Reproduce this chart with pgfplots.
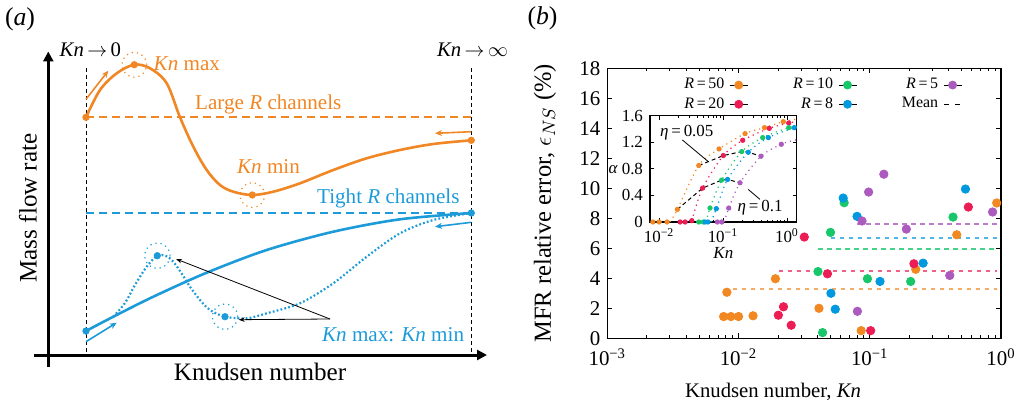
\documentclass[border=0pt]{standalone}
\usepackage{fontspec}
\setmainfont{Liberation Serif}
\newfontfamily\tms{Liberation Serif}
\usepackage{pgfplots}
\pgfplotsset{compat=1.18}
\usetikzlibrary{arrows.meta}

\definecolor{aorange}{RGB}{241,134,36}
\definecolor{ablue}{RGB}{29,155,216}
\definecolor{cfifty}{RGB}{241,136,34}
\definecolor{ctwenty}{RGB}{236,28,84}
\definecolor{cten}{RGB}{24,199,106}
\definecolor{ceight}{RGB}{0,152,222}
\definecolor{cfive}{RGB}{171,90,190}

\newcommand{\fs}[1]{\tms\fontsize{#1}{#1}\selectfont}

\begin{document}
\begin{tikzpicture}
\useasboundingbox (0,0) rectangle (512bp,202bp);

% ---------------- panel (a): schematic, axis in pixel units
\begin{axis}[at={(0,0)},anchor=south west,scale only axis,
  width=256bp,height=202bp,
  xmin=0,xmax=512,ymin=0,ymax=404,y dir=reverse,
  hide axis,clip=false]
  % axes with arrows
  \draw[black,line width=1.5bp,-{Triangle[length=5bp,width=5bp]}]
    (axis cs:48.3,367) -- (axis cs:48.3,51.5);
  \draw[black,line width=1.5bp,-{Triangle[length=5bp,width=5bp]}]
    (axis cs:33.5,355) -- (axis cs:487,355);
  \draw[black,line width=0.5bp,dash pattern=on 2bp off 1.5bp]
    (axis cs:86,68) -- (axis cs:86,355);
  \draw[black,line width=0.5bp,dash pattern=on 2bp off 1.5bp]
    (axis cs:471.3,68) -- (axis cs:471.3,355);

  % reference levels
  \addplot[color=aorange,line width=0.8bp,dash pattern=on 4bp off 2.5bp]
    coordinates {(86,117.3) (471.3,117.3)};
  \addplot[color=ablue,line width=0.7bp,dash pattern=on 4bp off 2.5bp]
    coordinates {(86,213) (471.3,213)};

  % large R channels
  \addplot[aorange,line width=1.3bp,smooth,tension=0.55] coordinates {
    (86,117.3) (100,90) (116.7,73.3) (134.3,64.7) (150,68.3)
    (166.7,83.3) (180,117.3) (193.3,146.7) (206.7,170) (220,185)
    (233.3,191.7) (252.3,195) (273.3,191.7) (300,183.3) (333.3,170)
    (366.7,158.3) (400,150) (433.3,144) (471.3,140.3)};
  \addplot[aorange,only marks,mark=*,mark size=1.6bp] coordinates {
    (86,117.3) (134.3,64.7) (252.3,195) (471.3,140.3)};

  % tight R channels
  \addplot[ablue,line width=1.3bp,smooth] coordinates {
    (86,331) (113.3,316.7) (153.3,296.7) (206.7,272.7) (266.7,250)
    (333.3,231.7) (400,219.3) (471.3,213)};
  \addplot[ablue,line width=1.1bp,dash pattern=on 0.9bp off 1.1bp,smooth,tension=0.5]
    coordinates {
    (113.3,316.7) (125,303) (135,285) (146.7,266.7) (157.3,255.7)
    (166,256) (173.3,261.7) (182,274) (190,286.7) (200,300) (210,310)
    (225,316.7) (246.7,318.3) (266.7,313.3) (300,303.3) (333.3,283.3)
    (366.7,256.7) (400,233.3) (433.3,220) (471.3,213)};
  \addplot[ablue,only marks,mark=*,mark size=1.6bp] coordinates {
    (86,331) (157.3,255.7) (225,316.7) (471.3,213)};

  % dotted circles
  \draw[aorange,line width=0.6bp,dotted] (axis cs:134.3,64.7) circle[radius=6.2bp];
  \draw[aorange,line width=0.6bp,dotted] (axis cs:252.3,195) circle[radius=6.2bp];
  \draw[ablue,line width=0.6bp,dotted] (axis cs:157.3,255.7) circle[radius=6.4bp];
  \draw[ablue,line width=0.6bp,dotted] (axis cs:225,316.7) circle[radius=6.4bp];

  % direction arrows
  \draw[aorange,line width=0.8bp,-{Stealth[length=3.5bp,width=3bp]}]
    (axis cs:86,99.3) -- (axis cs:108.3,70.7);
  \draw[aorange,line width=0.8bp,-{Stealth[length=3.5bp,width=3bp]}]
    (axis cs:471.3,131.7) -- (axis cs:435,133.3);
  \draw[ablue,line width=0.8bp,-{Stealth[length=3.5bp,width=3bp]}]
    (axis cs:86,341.7) -- (axis cs:116.7,322.7);
  \draw[ablue,line width=0.8bp,-{Stealth[length=3.5bp,width=3bp]}]
    (axis cs:471.3,222.3) -- (axis cs:435,226.7);
  \draw[black,line width=0.4bp,-{Stealth[length=3bp,width=2.2bp]}]
    (axis cs:330,319) -- (axis cs:176,259);
  \draw[black,line width=0.4bp,-{Stealth[length=3bp,width=2.2bp]}]
    (axis cs:330,319) -- (axis cs:238.7,319.7);

  % text
  \node[font=\fs{12.9}] at (axis cs:20,19) {(\textit{a})};
  \node[font=\fs{12.9}] at (axis cs:542.5,18.5) {(\textit{b})};
  \node[font=\fs{10.4},anchor=base west,inner sep=0pt] at (axis cs:59.3,56.7)
    {\textit{Kn}\,$\rightarrow$\,0};
  \node[font=\fs{10.4},anchor=base west,inner sep=0pt] at (axis cs:436.7,56.7)
    {\textit{Kn}\,$\rightarrow$\,$\infty$};
  \node[font=\fs{10.6},anchor=base west,inner sep=0pt,text=aorange]
    at (axis cs:153.3,71) {\textit{Kn} max};
  \node[font=\fs{10.6},anchor=base,inner sep=0pt,text=aorange]
    at (axis cs:268.3,109.3) {Large \textit{R} channels};
  \node[font=\fs{10.6},anchor=base west,inner sep=0pt,text=aorange]
    at (axis cs:236.7,174) {\textit{Kn} min};
  \node[font=\fs{10.6},anchor=base west,inner sep=0pt,text=ablue]
    at (axis cs:316.7,203.3) {Tight \textit{R} channels};
  \node[font=\fs{10.6},anchor=base west,inner sep=0pt,text=ablue]
    at (axis cs:321.7,341.7) {\textit{Kn} max: \textit{Kn} min};
  \node[font=\fs{12.6},anchor=base,inner sep=0pt,rotate=90]
    at (axis cs:36.5,208) {Mass flow rate};
  \node[font=\fs{12.6},anchor=base,inner sep=0pt]
    at (axis cs:260,380) {Knudsen number};
\end{axis}

% ---------------- panel (b): main axis
\begin{axis}[at={(303.65bp,32.85bp)},anchor=south west,scale only axis,
  width=196.85bp,height=135bp,
  xmode=log,xmin=1e-3,xmax=1,ymin=0,ymax=18,
  xtick={0.001,0.01,0.1,1},
  xticklabels={10\textsuperscript{−3},10\textsuperscript{−2},10\textsuperscript{−1},10\textsuperscript{0}},
  ytick={0,2,...,18},
  /pgf/number format/assume math mode=true,
  ticklabel style={font=\fs{10.5}},
  xticklabel style={yshift=-1.5bp},
  axis line style={line width=0.75bp},
  tick style={line width=0.5bp,black},
  major tick length=2.5bp,minor tick length=1.5bp,
  xlabel={Knudsen number, \textit{Kn}},
  ylabel={MFR relative error, $\epsilon_{NS}$ (\%)},
  x label style={font=\fs{10.4},at={(axis description cs:0.421,-0.198)},anchor=center},
  y label style={font=\fs{12.3},at={(axis description cs:-0.158,0.5)},anchor=center},
  legend columns=3,
  legend plot pos=right,
  legend cell align=right,
  legend style={draw=none,fill=none,font=\fs{8},
    at={(axis description cs:0.177,0.983)},anchor=north west,
    nodes={inner sep=0.5bp},row sep=1.8bp,
    /tikz/every odd column/.append style={column sep=2bp},
    /tikz/every even column/.append style={column sep=22bp}},
]
  \addlegendimage{legend image code/.code={\path (-2bp,0) -- (7bp,0);
    \fill[cfifty] (2.5bp,0) circle (2bp);}}
  \addlegendentry{\textit{R}\,=\,50}
  \addlegendimage{legend image code/.code={\path (-2bp,0) -- (7bp,0);
    \fill[cten] (2.5bp,0) circle (2bp);}}
  \addlegendentry{\textit{R}\,=\,10}
  \addlegendimage{legend image code/.code={\path (-2bp,0) -- (7bp,0);
    \fill[cfive] (2.5bp,0) circle (2bp);}}
  \addlegendentry{\textit{R}\,=\,5}
  \addlegendimage{legend image code/.code={\path (-2bp,0) -- (7bp,0);
    \fill[ctwenty] (2.5bp,0) circle (2bp);}}
  \addlegendentry{\textit{R}\,=\,20}
  \addlegendimage{legend image code/.code={\path (-2bp,0) -- (7bp,0);
    \fill[ceight] (2.5bp,0) circle (2bp);}}
  \addlegendentry{\textit{R}\,=\,8}
  \addlegendimage{legend image code/.code={\draw[black,line width=0.5bp,
    dash pattern=on 2.5bp off 3bp] (-1.75bp,0) -- (6.75bp,0);}}
  \addlegendentry{Mean}

  % mean values
  \addplot[forget plot,cfifty!70,line width=1bp,dash pattern=on 2.2bp off 2.3bp]
    coordinates {(0.00906,3.27) (0.93,3.27)};
  \addplot[forget plot,ctwenty!70,line width=1bp,dash pattern=on 2.2bp off 2.3bp]
    coordinates {(0.0202,4.48) (0.93,4.48)};
  \addplot[forget plot,cten!80,line width=1bp,dash pattern=on 2.2bp off 2.3bp]
    coordinates {(0.0405,5.97) (0.93,5.97)};
  \addplot[forget plot,ceight!70,line width=1bp,dash pattern=on 2.2bp off 2.3bp]
    coordinates {(0.0506,6.66) (0.93,6.66)};
  \addplot[forget plot,cfive!80,line width=1bp,dash pattern=on 2.2bp off 2.3bp]
    coordinates {(0.0805,7.64) (0.93,7.64)};

  % errors per aspect ratio
  \addplot[forget plot,only marks,mark=*,mark size=2.1bp,cfifty] coordinates {
    (0.00815,3.07) (0.0077,1.45) (0.00875,1.45) (0.0100,1.45) (0.0129,1.50)
    (0.0191,3.97) (0.0410,2.00) (0.086,0.51) (0.224,4.60) (0.46,6.90)
    (0.927,9.02)};
  \addplot[forget plot,only marks,mark=*,mark size=2.1bp,ctwenty] coordinates {
    (0.0317,6.75) (0.0201,1.54) (0.0220,2.10) (0.0252,0.87) (0.0476,4.30)
    (0.1016,0.51) (0.217,4.97) (0.564,8.75)};
  \addplot[forget plot,only marks,mark=*,mark size=2.1bp,cten] coordinates {
    (0.0403,4.45) (0.0437,0.38) (0.0638,9.04) (0.0502,7.06) (0.096,3.97)
    (0.205,3.79) (0.431,8.08)};
  \addplot[forget plot,only marks,mark=*,mark size=2.1bp,ceight] coordinates {
    (0.0627,9.35) (0.080,8.13) (0.0506,3.00) (0.0546,1.94) (0.1197,3.79)
    (0.255,5.01) (0.536,9.95)};
  \addplot[forget plot,only marks,mark=*,mark size=2.1bp,cfive] coordinates {
    (0.0873,7.82) (0.0805,1.80) (0.190,7.28) (0.407,4.19) (0.863,8.42)
    (0.098,9.75) (0.128,10.94)};
\end{axis}

% ---------------- panel (b): inset
\begin{axis}[at={(325bp,91bp)},anchor=south west,scale only axis,
  width=73.35bp,height=53.15bp,
  xmode=log,xmin=0.0072,xmax=1.42,ymin=0,ymax=1.6,
  axis background/.style={fill=white},
  xtick={0.01,0.1,1},
  xticklabels={10\textsuperscript{−2},10\textsuperscript{−1},10\textsuperscript{0}},
  ytick={0,0.4,0.8,1.2,1.6},
  yticklabels={0,0.4,0.8,1.2,1.6},
  ticklabel style={font=\fs{8.5}},
  axis line style={line width=0.75bp},
  tick style={line width=0.4bp,black},
  major tick length=2bp,minor tick length=1.2bp,
  xlabel={\textit{Kn}},ylabel={\textit{α}},
  label style={font=\fs{8.5}},
  x label style={at={(axis description cs:0.5,-0.294)},anchor=center},
  y label style={at={(axis description cs:-0.25,0.49)},anchor=center,rotate=-90},
]
  % fitted curves
  \addplot[cfifty,line width=0.6bp,dotted,smooth] coordinates {
    (0.0148,0) (0.0193,0.19) (0.0417,0.85) (0.0866,1.10) (0.221,1.33)
    (0.445,1.42) (0.875,1.51) (1.42,1.55)};
  \addplot[ctwenty,line width=0.6bp,dotted,smooth] coordinates {
    (0.0325,0.02) (0.0479,0.51) (0.101,1.00) (0.203,1.23) (0.529,1.41)
    (1.065,1.49) (1.42,1.51)};
  \addplot[cten,line width=0.6bp,dotted,smooth] coordinates {
    (0.0545,0) (0.0626,0.21) (0.0948,0.63) (0.196,1.06) (0.417,1.27)
    (1.065,1.42) (1.42,1.44)};
  \addplot[ceight,line width=0.6bp,dotted,smooth] coordinates {
    (0.065,0) (0.0785,0.20) (0.1175,0.64) (0.248,1.05) (0.511,1.27)
    (1.3,1.42) (1.42,1.43)};
  \addplot[cfive,line width=0.6bp,dotted,smooth] coordinates {
    (0.105,0) (0.1227,0.21) (0.1845,0.59) (0.393,0.99) (0.815,1.17)
    (1.42,1.24)};

  % constant eta
  \addplot[black,line width=0.5bp,dash pattern=on 2bp off 1.5bp] coordinates {
    (0.0417,0.85) (0.101,1.00) (0.196,1.06) (0.248,1.05) (0.393,0.99)};
  \addplot[black,line width=0.5bp,dash pattern=on 2bp off 1.5bp] coordinates {
    (0.0193,0.19) (0.0479,0.51) (0.0948,0.63) (0.1175,0.64) (0.1845,0.59)};

  % measured points
  \addplot[only marks,mark=*,mark size=1.1bp,cfifty] coordinates {
    (0.00798,0) (0.0100,0) (0.0133,0) (0.0193,0.19) (0.0417,0.85)
    (0.0866,1.10) (0.221,1.33) (0.445,1.42) (0.875,1.51)};
  \addplot[only marks,mark=*,mark size=1.1bp,ctwenty] coordinates {
    (0.0213,0) (0.0255,0) (0.0325,0.02) (0.0479,0.51) (0.101,1.00)
    (0.203,1.23) (0.529,1.41) (1.065,1.49)};
  \addplot[only marks,mark=*,mark size=1.1bp,cten] coordinates {
    (0.0417,0) (0.0492,0) (0.0626,0.21) (0.0948,0.63) (0.196,1.06)
    (0.417,1.27) (1.065,1.42)};
  \addplot[only marks,mark=*,mark size=1.1bp,ceight] coordinates {
    (0.0525,0) (0.058,0) (0.0785,0.20) (0.1175,0.64) (0.248,1.05)
    (0.511,1.27) (1.3,1.42)};
  \addplot[only marks,mark=*,mark size=1.1bp,cfive] coordinates {
    (0.0815,0) (0.0955,0) (0.1227,0.21) (0.1845,0.59) (0.393,0.99)
    (0.815,1.17)};

  % labels
  \draw[black,line width=0.4bp] (axis cs:0.0231,1.235) -- (axis cs:0.0589,0.908);
  \draw[black,line width=0.4bp] (axis cs:0.248,0.49) -- (axis cs:0.378,0.34);
  \node[font=\fs{8.5},inner sep=0pt] at (axis cs:0.0271,1.35) {\textit{η}\,=\,0.05};
  \node[font=\fs{8.5},inner sep=0pt] at (axis cs:0.38,0.22) {\textit{η}\,=\,0.1};
\end{axis}
\end{tikzpicture}
\end{document}
